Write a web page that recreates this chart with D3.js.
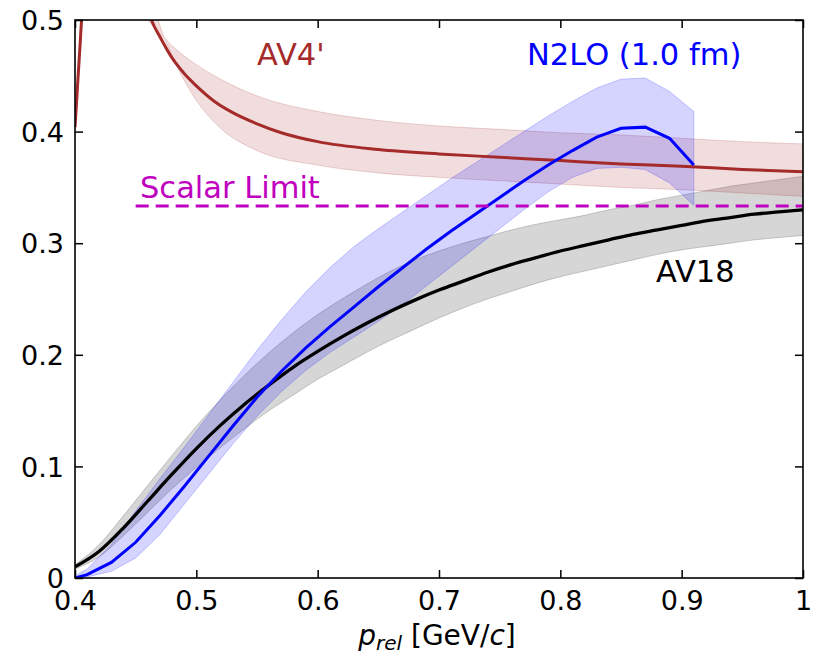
<!DOCTYPE html>
<html>
<head>
<meta charset="utf-8">
<script src="https://cdn.jsdelivr.net/npm/d3@7"></script>
<style>
  html, body { margin: 0; padding: 0; background: #fff; }
  svg { display: block; font-family: "DejaVu Sans", sans-serif; }
</style>
</head>
<body>
<svg id="chart" width="819" height="658"></svg>
<script>
// ---------------- DATA ----------------
const xTicks = [0.4, 0.5, 0.6, 0.7, 0.8, 0.9, 1.0];
const xTickLabels = ["0.4", "0.5", "0.6", "0.7", "0.8", "0.9", "1"];
const yTicks = [0, 0.1, 0.2, 0.3, 0.4, 0.5];
const yTickLabels = ["0", "0.1", "0.2", "0.3", "0.4", "0.5"];

// AV18
const av18P = [0.40,0.42,0.44,0.46,0.48,0.50,0.52,0.54,0.56,0.58,0.60,0.62,0.64,0.66,0.68,0.70,
               0.72,0.74,0.76,0.78,0.80,0.82,0.84,0.86,0.88,0.90,0.92,0.94,0.96,0.98,1.00];
const av18 = [0.010,0.024,0.045,0.069,0.093,0.116,0.137,0.156,0.173,0.189,0.203,0.216,0.228,0.239,0.249,0.258,
              0.266,0.274,0.281,0.287,0.293,0.298,0.303,0.308,0.312,0.316,0.320,0.323,0.326,0.328,0.330];
const av18Hi = [0.012,0.030,0.056,0.083,0.110,0.136,0.160,0.182,0.202,0.220,0.236,0.250,0.263,0.275,0.285,0.293,
                0.300,0.306,0.312,0.317,0.321,0.325,0.330,0.334,0.339,0.343,0.347,0.351,0.354,0.357,0.360];
const av18Lo = [0.008,0.019,0.038,0.059,0.080,0.099,0.117,0.134,0.150,0.164,0.178,0.190,0.202,0.213,0.223,0.233,
                0.242,0.250,0.257,0.264,0.270,0.275,0.280,0.285,0.290,0.294,0.297,0.300,0.303,0.305,0.307];

// N2LO (1.0 fm)
const n2loP = [0.40,0.41,0.43,0.45,0.47,0.49,0.51,0.53,0.55,0.57,0.59,0.61,0.63,0.65,0.67,0.69,
               0.71,0.73,0.75,0.77,0.79,0.81,0.83,0.85,0.87,0.89,0.91];
const n2lo = [0.000,0.003,0.014,0.032,0.056,0.082,0.109,0.136,0.162,0.185,0.206,0.225,0.243,0.261,0.278,0.295,
              0.311,0.326,0.341,0.356,0.370,0.383,0.395,0.403,0.404,0.394,0.370];
const n2loHi = [0.002,0.008,0.030,0.060,0.089,0.117,0.146,0.175,0.204,0.231,0.256,0.278,0.297,0.313,0.328,0.343,
                0.358,0.372,0.386,0.400,0.414,0.427,0.439,0.447,0.448,0.436,0.418];
const n2loLo = [0.000,0.001,0.006,0.018,0.039,0.066,0.093,0.120,0.145,0.167,0.186,0.202,0.216,0.230,0.245,0.262,
                0.279,0.296,0.313,0.330,0.346,0.359,0.367,0.368,0.366,0.354,0.334];

// AV4'
const av4LeftP = [0.400, 0.4057];
const av4Left  = [0.404, 0.505];
const av4P = [0.460,0.463,0.470,0.480,0.490,0.500,0.515,0.530,0.550,0.570,0.600,0.650,0.700,0.750,0.800,0.850,0.900,0.950,1.000];
const av4  = [0.510,0.500,0.485,0.466,0.452,0.441,0.427,0.417,0.407,0.399,0.391,0.384,0.380,0.377,0.374,0.371,0.369,0.366,0.364];
const av4HiP = [0.452,0.470,0.480,0.500,0.520,0.550,0.600,0.650,0.700,0.750,0.800,0.850,0.900,0.950,1.000];
const av4Hi  = [0.510,0.488,0.477,0.460,0.447,0.432,0.418,0.410,0.405,0.402,0.399,0.397,0.394,0.391,0.389];
const av4LoP = [0.466,0.470,0.480,0.490,0.500,0.520,0.550,0.600,0.650,0.700,0.750,0.800,0.850,0.900,0.950,1.000];
const av4Lo  = [0.510,0.495,0.468,0.446,0.428,0.403,0.383,0.370,0.363,0.359,0.356,0.353,0.350,0.348,0.345,0.342];

// Scalar limit
const scalarP = [0.45, 1.0];
const scalarVal = 1/3;

// ---------------- CHART ----------------
const svg = d3.select("#chart");
const L = 75, R = 803, T = 20, B = 578;
const x = d3.scaleLinear().domain([0.4, 1.0]).range([L, R]);
const y = d3.scaleLinear().domain([0, 0.5]).range([B, T]);

svg.append("defs").append("clipPath").attr("id", "clip")
  .append("rect").attr("x", L).attr("y", T).attr("width", R - L).attr("height", B - T);
const g = svg.append("g").attr("clip-path", "url(#clip)");

const zip = (ps, vs) => ps.map((p, i) => [p, vs[i]]);
const lineLin = d3.line().x(d => x(d[0])).y(d => y(d[1]));
const lineSm = d3.line().x(d => x(d[0])).y(d => y(d[1])).curve(d3.curveMonotoneX);
const bandArea = (ps, hi, lo, curve) => d3.area().curve(curve)
  .x((d, i) => x(ps[i])).y0((d, i) => y(lo[i])).y1((d, i) => y(hi[i]))(ps);
const polyBand = (pHi, hi, pLo, lo) => {
  const up = lineSm(zip(pHi, hi));
  const dn = lineSm(zip(pLo, lo).reverse());
  return up + "L" + dn.slice(1) + "Z";
};

// bands
g.append("path").attr("d", bandArea(av18P, av18Hi, av18Lo, d3.curveMonotoneX))
  .attr("fill", "rgba(0,0,0,0.16)").attr("stroke", "rgba(0,0,0,0.18)").attr("stroke-width", 1);
g.append("path").attr("d", polyBand(av4HiP, av4Hi, av4LoP, av4Lo))
  .attr("fill", "rgba(165,42,42,0.16)").attr("stroke", "rgba(165,42,42,0.2)").attr("stroke-width", 1);
g.append("path").attr("d", bandArea(n2loP, n2loHi, n2loLo, d3.curveLinear))
  .attr("fill", "rgba(0,0,255,0.17)").attr("stroke", "rgba(0,0,255,0.2)").attr("stroke-width", 1);

// lines
g.append("path").attr("d", lineSm(zip(av18P, av18)))
  .attr("fill", "none").attr("stroke", "#000").attr("stroke-width", 3.3);
g.append("path").attr("d", lineLin(zip(av4LeftP, av4Left)))
  .attr("fill", "none").attr("stroke", "#a52a2a").attr("stroke-width", 3);
g.append("path").attr("d", lineSm(zip(av4P, av4)))
  .attr("fill", "none").attr("stroke", "#a52a2a").attr("stroke-width", 3);
g.append("path").attr("d", lineLin(zip(n2loP, n2lo)))
  .attr("fill", "none").attr("stroke", "#0000ff").attr("stroke-width", 3);
g.append("path").attr("d", lineLin(scalarP.map(p => [p, scalarVal])))
  .attr("fill", "none").attr("stroke", "#bf00bf").attr("stroke-width", 3)
  .attr("stroke-dasharray", "13,7");

// axes (inward ticks on all sides)
const fs = "27px";
const ax = svg.append("g").attr("transform", `translate(0,${B})`)
  .call(d3.axisBottom(x).tickValues(xTicks).tickFormat((d, i) => xTickLabels[i]).tickSize(-8).tickPadding(13));
const ay = svg.append("g").attr("transform", `translate(${L},0)`)
  .call(d3.axisLeft(y).tickValues(yTicks).tickFormat((d, i) => yTickLabels[i]).tickSize(-8).tickPadding(11));
const at = svg.append("g").attr("transform", `translate(0,${T})`)
  .call(d3.axisTop(x).tickValues(xTicks).tickFormat("").tickSize(-8));
const ar = svg.append("g").attr("transform", `translate(${R},0)`)
  .call(d3.axisRight(y).tickValues(yTicks).tickFormat("").tickSize(-8));
[ax, ay, at, ar].forEach(a => {
  a.selectAll(".domain").remove();
  a.selectAll(".tick line").attr("stroke", "#000").attr("stroke-width", 1.5);
  a.selectAll("text").attr("font-size", fs).attr("fill", "#000").attr("font-family", "DejaVu Sans");
});
ax.selectAll("text").attr("dy", "0.71em");
ay.selectAll("text").attr("dy", "0.36em");

svg.append("rect").attr("x", L).attr("y", T).attr("width", R - L).attr("height", B - T)
  .attr("fill", "none").attr("stroke", "#000").attr("stroke-width", 1.6);

// annotations
const ann = (txt, xx, yy, col) => svg.append("text").attr("x", xx).attr("y", yy)
  .attr("fill", col).attr("font-size", "30.5px").text(txt);
ann("AV4'", 257, 65, "#a52a2a");
ann("N2LO (1.0 fm)", 527, 65, "#0000ff");
ann("Scalar Limit", 140, 198, "#bf00bf");
ann("AV18", 656, 282, "#000");

// x label
const xl = svg.append("text").attr("x", 437).attr("y", 645).attr("text-anchor", "middle")
  .attr("font-size", "28px").attr("fill", "#000");
xl.append("tspan").attr("font-style", "italic").text("p");
xl.append("tspan").attr("font-style", "italic").attr("font-size", "20px").attr("dy", "5").text("rel");
xl.append("tspan").attr("dy", "-5").text(" [GeV/");
xl.append("tspan").attr("font-style", "italic").text("c");
xl.append("tspan").text("]");
</script>
</body>
</html>
